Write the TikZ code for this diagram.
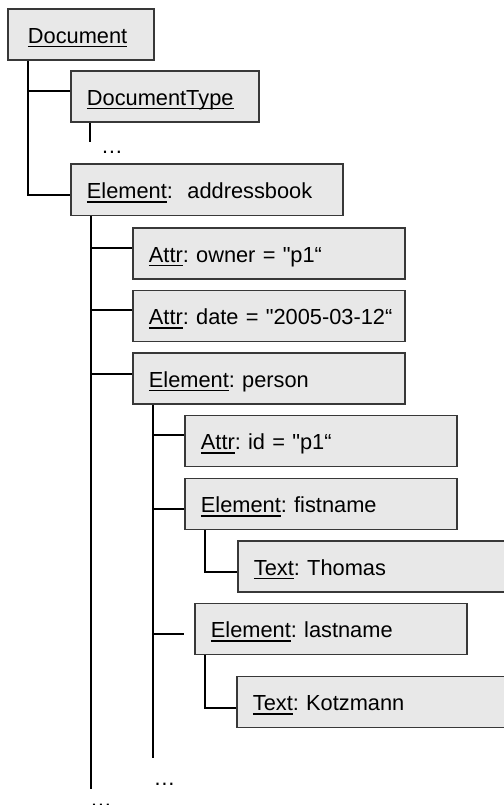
\documentclass[tikz,border=0pt]{standalone}
\usepackage{fontspec}
\setmainfont{Liberation Sans}[Ligatures=TeXOff]
\newcommand\undl[1]{\setbox0\hbox{#1}\rlap{\rule[-4pt]{\wd0}{1.8pt}}\box0}
\definecolor{boxfill}{HTML}{E8E8E8}
\definecolor{boxline}{HTML}{383838}
\tikzset{
  treebox/.style={draw=boxline, fill=boxfill, line width=1.8pt, rectangle,
    anchor=north west, minimum height=51pt, inner xsep=16pt, inner ysep=0pt,
    text height=18pt, text depth=0pt, align=left,
    font=\fontsize{21.8pt}{26pt}\selectfont\frenchspacing},
  conn/.style={draw=black, line width=1.8pt, line join=miter},
  moredots/.style={anchor=base, inner sep=0pt, font=\fontsize{21.8pt}{26pt}\selectfont}
}
\begin{document}
\begin{tikzpicture}[x=1pt,y=-1pt]
\useasboundingbox (0,0) rectangle (503,805);
% boxes
\node[treebox, inner xsep=20pt, text width=106pt, minimum width=146pt] (doc) at (7,8) {\mbox{\undl{Document}}};
\node[treebox, text width=156pt, minimum width=188pt] (dt) at (70,70) {\mbox{\undl{DocumentType}}};
\node[treebox, text width=240pt, minimum width=272pt] (ab) at (70,163.5) {\mbox{\undl{Element}:\ \ addressbook}};
\node[treebox, text width=240pt, minimum width=272pt] (own) at (132,227) {\mbox{\undl{Attr}: owner = "p1“}};
\node[treebox, text width=240pt, minimum width=272pt] (date) at (132,289.5) {\mbox{\undl{Attr}: date = "2005-03-12“}};
\node[treebox, text width=240pt, minimum width=272pt] (per) at (132,352) {\mbox{\undl{Element}: person}};
\node[treebox, text width=240pt, minimum width=272pt] (id) at (184,414.5) {\mbox{\undl{Attr}: id = "p1“}};
\node[treebox, text width=240pt, minimum width=272pt] (fn) at (184,477.5) {\mbox{\undl{Element}: fistname}};
\node[treebox, text width=268pt, minimum width=300pt] (th) at (237,540) {\mbox{\undl{Text}: Thomas}};
\node[treebox, text width=240pt, minimum width=272pt] (ln) at (194,602.5) {\mbox{\undl{Element}: lastname}};
\node[treebox, text width=268pt, minimum width=300pt] (ko) at (236,675.5) {\mbox{\undl{Text}: Kotzmann}};
% dots
\node[moredots] (dtdots) at (112,154) {…};
\node[moredots] (perdots) at (164.5,785) {…};
\node[moredots] (abdots) at (101,806) {…};
% free ends
\coordinate (dtend) at (90,142);
\coordinate (abend) at (91,789);
\coordinate (perend) at (153,758);
\coordinate (lnstub) at (184,634);
% connectors
\draw[conn] ([xshift=21pt]doc.south west) |- ([yshift=-5pt]ab.west);
\draw[conn] ([xshift=21pt]doc.south west) |- ([yshift=5.5pt]dt.west);
\draw[conn] ([xshift=20pt]dt.south west) -- (dtend);
\draw[conn] ([xshift=21pt]ab.south west) -- (abend);
\draw[conn] ([xshift=21pt]ab.south west) |- ([yshift=5.5pt]own.west);
\draw[conn] ([xshift=21pt]ab.south west) |- ([yshift=6pt]date.west);
\draw[conn] ([xshift=21pt]ab.south west) |- ([yshift=4.5pt]per.west);
\draw[conn] ([xshift=21pt]per.south west) -- (perend);
\draw[conn] ([xshift=21pt]per.south west) |- ([yshift=6pt]id.west);
\draw[conn] ([xshift=21pt]per.south west) |- ([yshift=-5pt]fn.west);
\draw[conn] ([xshift=21pt]per.south west) |- (lnstub);
\draw[conn] ([xshift=21pt]fn.south west) |- ([yshift=-5.5pt]th.west);
\draw[conn] ([xshift=11pt]ln.south west) |- ([yshift=-6pt]ko.west);
\end{tikzpicture}
\end{document}
